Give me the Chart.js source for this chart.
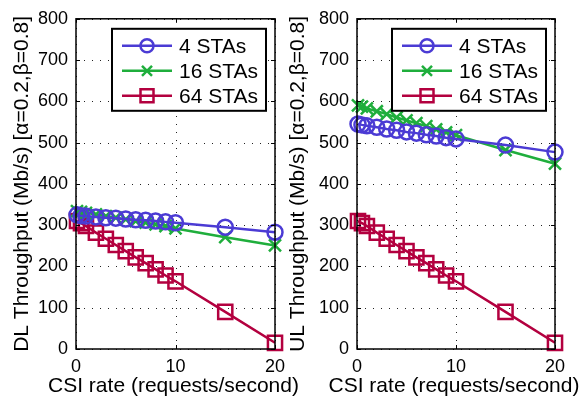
<!DOCTYPE html>
<html>
<head>
<meta charset="utf-8">
<script src="https://cdn.jsdelivr.net/npm/chart.js@4/dist/chart.umd.min.js"></script>
<style>
	body { margin: 0; background: #fff; }
	.box { position: absolute; top: 0; height: 402px; }
</style>
</head>
<body>
<div class="box" id="leftBox" style="left:0px;width:300px"><canvas id="dlChart"></canvas></div>
<div class="box" id="rightBox" style="left:285px;width:298px"><canvas id="ulChart"></canvas></div>
<script>
// CSI request rate on x
const csiRate = [0.1, 0.5, 1, 2, 3, 4, 5, 6, 7, 8, 9, 10, 15, 20];
const seriesNames = ["4 STAs", "16 STAs", "64 STAs"];

// downlink throughput
const dl4 = [325, 323, 322, 320, 318, 317, 315, 313, 312, 310, 308, 306, 295, 283];
const dl16 = [334, 332, 330, 326, 322, 318, 314, 310, 306, 302, 298, 292, 271, 251];
const dl64 = [310, 305, 298, 282, 267, 252, 237, 222, 208, 193, 178, 164, 90, 15];

// uplink throughput
const ul4 = [545, 543, 541, 537, 533, 530, 526, 523, 519, 516, 512, 509, 494, 477];
const ul16 = [590, 587, 583, 576, 569, 561, 554, 547, 540, 532, 525, 518, 482, 449];
const ul64 = [310, 305, 298, 282, 267, 252, 237, 222, 208, 193, 178, 164, 90, 15];

const FONT = "'Liberation Sans', Arial, sans-serif";
const colors = ["#4b3bd4", "#1fae3c", "#b3003f"];
const markers = [
	{ style: "circle", r: 7.5 },
	{ style: "crossRot", r: 8.5 },
	{ style: "rect", r: 10 },
];

function makeDatasets(values) {
	return values.map((v, i) => ({
		label: seriesNames[i],
		data: csiRate.map((x, j) => ({ x: x, y: v[j] })),
		borderColor: colors[i],
		backgroundColor: colors[i],
		borderWidth: 2.5,
		pointStyle: markers[i].style,
		pointRadius: markers[i].r,
		pointBorderWidth: 2.5,
		pointBorderColor: colors[i],
		pointBackgroundColor: "rgba(0,0,0,0)",
		clip: false,
		tension: 0,
	}));
}

// dotted grid under the lines
const dottedGrid = {
	id: "dottedGrid",
	beforeDatasetsDraw(chart) {
		const { ctx, chartArea: a, scales: { x, y } } = chart;
		ctx.save();
		ctx.strokeStyle = "#222";
		ctx.lineWidth = 1;
		ctx.setLineDash([1, 7]);
		ctx.beginPath();
		y.ticks.forEach((t) => {
			const p = Math.round(y.getPixelForValue(t.value)) + 0.5;
			ctx.moveTo(a.left, p); ctx.lineTo(a.right, p);
		});
		x.ticks.forEach((t) => {
			const p = Math.round(x.getPixelForValue(t.value)) + 0.5;
			ctx.moveTo(p, a.bottom); ctx.lineTo(p, a.top);
		});
		ctx.stroke();
		ctx.restore();
	},
};

// box round the plot with inward ticks, x title, and the legend
const frame = {
	id: "frame",
	afterDraw(chart, args, opts) {
		const { ctx, chartArea: a, scales: { x, y } } = chart;
		ctx.save();
		ctx.strokeStyle = "#000";
		ctx.lineWidth = 1.5;
		ctx.strokeRect(a.left, a.top, a.right - a.left, a.bottom - a.top);
		ctx.lineWidth = 1;
		ctx.beginPath();
		y.ticks.forEach((t) => {
			const p = Math.round(y.getPixelForValue(t.value)) + 0.5;
			ctx.moveTo(a.left, p); ctx.lineTo(a.left + 4, p);
			ctx.moveTo(a.right, p); ctx.lineTo(a.right - 4, p);
		});
		x.ticks.forEach((t) => {
			const p = Math.round(x.getPixelForValue(t.value)) + 0.5;
			ctx.moveTo(p, a.bottom); ctx.lineTo(p, a.bottom - 4);
			ctx.moveTo(p, a.top); ctx.lineTo(p, a.top + 4);
		});
		ctx.stroke();

		// x title (drawn here so it isn't squeezed to the plot width)
		ctx.fillStyle = "#000";
		ctx.font = "21px " + FONT;
		ctx.textAlign = "center";
		ctx.textBaseline = "middle";
		ctx.fillText(opts.xTitle, (a.left + a.right) / 2 - 2, chart.height - 16);

		// legend
		const w = 154, h = 82;
		const lx = a.right - 9 - w, ly = a.top + 10;
		ctx.fillStyle = "#fff";
		ctx.fillRect(lx, ly, w, h);
		ctx.strokeStyle = "#000";
		ctx.lineWidth = 2;
		ctx.strokeRect(lx, ly, w, h);
		chart.data.datasets.forEach((ds, i) => {
			const ry = ly + 17 + i * 25;
			ctx.strokeStyle = ds.borderColor;
			ctx.lineWidth = 2.5;
			ctx.beginPath();
			ctx.moveTo(lx + 10, ry);
			ctx.lineTo(lx + 60, ry);
			ctx.stroke();
			const cx = lx + 35;
			ctx.beginPath();
			if (i == 0) ctx.arc(cx, ry, 6.5, 0, Math.PI * 2);
			else if (i == 1) {
				ctx.moveTo(cx - 5, ry - 5); ctx.lineTo(cx + 5, ry + 5);
				ctx.moveTo(cx - 5, ry + 5); ctx.lineTo(cx + 5, ry - 5);
			} else ctx.rect(cx - 6.5, ry - 6.5, 13, 13);
			ctx.stroke();
			ctx.fillStyle = "#000";
			ctx.font = "21px " + FONT;
			ctx.textBaseline = "middle";
			ctx.textAlign = "left";
			ctx.fillText(ds.label, lx + 67, ry + 1);
		});
		ctx.restore();
	},
};

function makeChart(canvasId, values, yTitle, yWidth, yTitlePad, rightPad) {
	return new Chart(document.getElementById(canvasId), {
		type: "line",
		data: { datasets: makeDatasets(values) },
		plugins: [dottedGrid, frame],
		options: {
			animation: false,
			events: [],
			responsive: true,
			maintainAspectRatio: false,
			layout: { padding: { top: 7, right: rightPad, left: 0, bottom: 0 } },
			plugins: {
				legend: { display: false },
				tooltip: { enabled: false },
				frame: { xTitle: "CSI rate (requests/second)" },
			},
			scales: {
				x: {
					type: "linear",
					min: 0,
					max: 20,
					afterFit: (s) => { s.height = 53; },
					ticks: { stepSize: 10, color: "#000", padding: 7, font: { family: FONT, size: 18 } },
					grid: { color: "rgba(0,0,0,0)", drawTicks: false },
					border: { display: false },
				},
				y: {
					min: 0,
					max: 800,
					afterFit: (s) => { s.width = yWidth; },
					ticks: { stepSize: 100, color: "#000", padding: 8, font: { family: FONT, size: 18 } },
					grid: { color: "rgba(0,0,0,0)", drawTicks: false },
					border: { display: false },
					title: {
						display: true,
						text: yTitle,
						color: "#000",
						font: { family: FONT, size: 21, lineHeight: 1 },
						padding: { top: yTitlePad, bottom: 0 },
					},
				},
			},
		},
	});
}

makeChart("dlChart", [dl4, dl16, dl64], "DL Throughput (Mb/s) [α=0.2,β=0.8]", 76, 11.5, 25);
makeChart("ulChart", [ul4, ul16, ul64], "UL Throughput (Mb/s) [α=0.2,β=0.8]", 72, 3, 28);
</script>
</body>
</html>
